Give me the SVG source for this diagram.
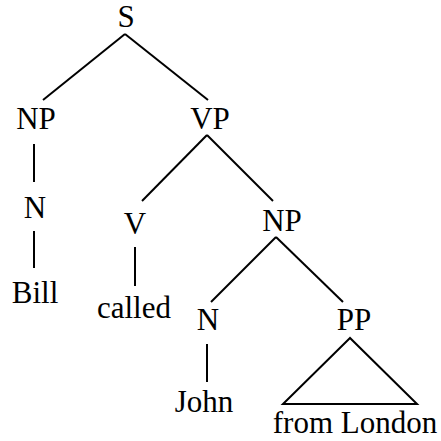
<svg xmlns="http://www.w3.org/2000/svg" width="441" height="441" viewBox="0 0 441 441">
<style>
text{font-family:"Liberation Serif","Times New Roman",serif;font-size:31px;fill:#000;text-anchor:middle}
.e{stroke:#000;stroke-width:2;fill:none;stroke-linecap:butt}
</style>
<rect width="441" height="441" fill="#fff"/>
<g id="connectors">
<line class="e" x1="125" y1="34" x2="43" y2="100"/>
<line class="e" x1="125" y1="34" x2="208" y2="100"/>
<line class="e" x1="34" y1="144" x2="34" y2="182"/>
<line class="e" x1="34" y1="231" x2="34" y2="268"/>
<line class="e" x1="207" y1="135" x2="142" y2="201"/>
<line class="e" x1="207" y1="135" x2="273" y2="201"/>
<line class="e" x1="135" y1="247" x2="135" y2="286"/>
<line class="e" x1="276" y1="237" x2="211" y2="302"/>
<line class="e" x1="276" y1="237" x2="343" y2="302"/>
<line class="e" x1="207" y1="344" x2="207" y2="382"/>
<polygon class="e" points="350,338 283,404 417,404"/>
</g>
<g id="S"><text x="126" y="27">S</text></g>
<g id="NP1"><text x="36" y="129">NP</text></g>
<g id="N1"><text x="35" y="218">N</text></g>
<g id="Bill"><text x="35" y="303">Bill</text></g>
<g id="VP"><text x="210" y="129">VP</text></g>
<g id="V"><text x="135" y="234">V</text></g>
<g id="called"><text x="134" y="318">called</text></g>
<g id="NP2"><text x="282" y="231">NP</text></g>
<g id="N2"><text x="208" y="330">N</text></g>
<g id="John"><text x="204" y="412">John</text></g>
<g id="PP"><text x="354" y="330">PP</text></g>
<g id="fromLondon"><text x="355" y="433">from London</text></g>
</svg>
